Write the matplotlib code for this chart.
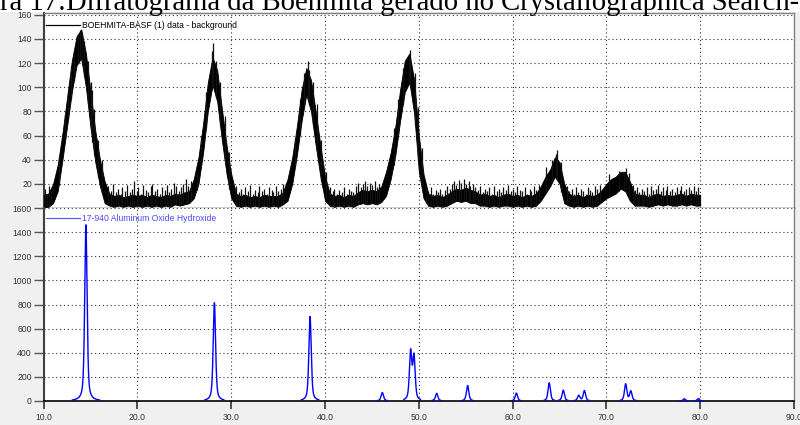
import numpy as np
import matplotlib
matplotlib.use("Agg")
import matplotlib.pyplot as plt
from matplotlib.patches import Rectangle

# ---------------- data ----------------
# Measured pattern (data - background): upper / lower envelope of the noisy trace,
# sampled every 0.5 deg 2-theta from 10.0 to 80.0
meas_start, meas_step = 10.0, 0.5
meas_upper = [
    11, 12, 20, 36, 62, 92, 122, 142, 148, 128,      # 10.0 - 14.5
    96, 64, 40, 22, 12, 10, 11, 9, 10, 11,           # 15.0 - 19.5
    10, 11, 9, 11, 10, 9, 11, 10, 12, 11,            # 20.0 - 24.5
    13, 14, 24, 42, 70, 104, 125, 114, 82, 52,       # 25.0 - 29.5
    28, 12, 10, 11, 9, 10, 9, 11, 10, 10,            # 30.0 - 34.5
    10, 13, 24, 42, 68, 98, 116, 106, 80, 52,        # 35.0 - 39.5
    26, 12, 10, 11, 9, 11, 10, 13, 15, 14,           # 40.0 - 44.5
    15, 14, 18, 30, 46, 68, 98, 122, 128, 106,       # 45.0 - 49.5
    60, 28, 12, 10, 11, 9, 11, 14, 16, 15,           # 50.0 - 54.5
    17, 15, 14, 11, 12, 10, 11, 9, 11, 12,           # 55.0 - 59.5
    10, 11, 9, 11, 10, 12, 18, 26, 32, 42,           # 60.0 - 64.5
    38, 20, 12, 10, 11, 9, 11, 10, 11, 15,           # 65.0 - 69.5
    20, 24, 26, 30, 30, 22, 12, 11, 11, 9,           # 70.0 - 74.5
    11, 12, 10, 11, 10, 11, 12, 10, 12, 11,          # 75.0 - 79.5
    11,                                              # 80.0
]
meas_lower = [
    0, 1, 4, 14, 40, 68, 96, 118, 124, 100,
    66, 38, 18, 4, 2, 1, 2, 1, 2, 1,
    2, 1, 2, 1, 2, 1, 2, 1, 3, 2,
    3, 4, 8, 20, 46, 80, 102, 88, 56, 28,
    8, 2, 1, 2, 1, 2, 1, 2, 1, 2,
    1, 3, 6, 20, 44, 72, 94, 80, 52, 26,
    6, 2, 1, 2, 1, 2, 1, 3, 4, 3,
    4, 3, 5, 10, 24, 44, 72, 96, 104, 78,
    30, 8, 2, 1, 2, 1, 2, 4, 6, 5,
    6, 4, 4, 2, 2, 1, 2, 1, 2, 2,
    1, 2, 1, 2, 1, 2, 6, 12, 18, 26,
    20, 4, 2, 1, 2, 1, 2, 1, 2, 5,
    8, 10, 12, 16, 14, 6, 2, 2, 2, 1,
    2, 3, 2, 3, 2, 2, 3, 2, 3, 2,
    2,
]
# individual spikes of the noisy trace (2-theta, top count)
spike_pos = [
    10.1, 10.3, 10.6, 10.8, 11.6, 12.3, 12.6, 12.9, 13.2, 13.7, 13.9, 14.1, 14.3,
    14.7, 15.0, 15.2, 15.4, 15.8, 16.2,
    16.9, 17.2, 17.4, 17.7, 17.9, 18.2, 18.4, 18.7, 18.9, 19.2, 19.4, 19.6, 19.9,
    20.1, 20.4, 20.6, 20.9, 21.1, 21.4, 21.6, 21.9, 22.1, 22.4, 22.6, 22.9, 23.1,
    23.4, 23.6, 23.9, 24.1, 24.4, 24.6, 24.9, 25.2, 25.4, 25.7, 26.3,
    26.8, 27.3, 27.9, 28.05, 28.4, 28.8, 29.3, 29.8,
    30.5, 30.8, 31.0, 31.3, 31.5, 31.8, 32.0, 32.3, 32.5, 32.8, 33.0, 33.3, 33.5,
    33.8, 34.0, 34.3, 34.5, 34.8, 35.0, 35.3, 35.5,
    36.8, 37.3, 37.8, 38.15, 38.3, 38.7, 39.1, 39.6, 40.1,
    40.5, 40.8, 41.0, 41.3, 41.5, 41.8, 42.0, 42.3, 42.5, 42.8, 43.0, 43.3, 43.5,
    43.8, 44.0, 44.3, 44.5, 44.8, 45.0, 45.3, 45.5, 45.8,
    47.3, 47.8, 48.3, 48.9, 49.05, 49.6, 49.9, 50.3,
    50.8, 51.0, 51.3, 51.5, 51.8, 52.0, 52.3, 52.5, 52.8, 53.0, 53.3, 53.5, 53.8,
    54.0, 54.3, 54.5, 54.8, 55.0, 55.3, 55.5, 55.8, 56.0, 56.3, 56.5, 56.8, 57.0,
    57.3, 57.5, 57.8, 58.0, 58.3, 58.5, 58.8, 59.0, 59.3, 59.5, 59.8, 60.0, 60.3,
    60.5, 60.8, 61.0, 61.3, 61.5, 61.8, 62.0, 62.3, 62.5, 62.8,
    63.6, 64.2, 64.6, 64.75, 65.2,
    65.8, 66.0, 66.3, 66.5, 66.8, 67.0, 67.3, 67.5, 67.8, 68.0, 68.3, 68.5, 68.8,
    69.0, 69.3,
    70.3, 71.3, 71.9, 72.05, 72.4,
    72.8, 73.0, 73.3, 73.5, 73.8, 74.0, 74.3, 74.5, 74.8, 75.0, 75.3, 75.5, 75.8,
    76.0, 76.3, 76.5, 76.8, 77.0, 77.3, 77.5, 77.8, 78.0, 78.3, 78.5, 78.8, 79.0,
    79.3, 79.5, 79.8,
]
spike_top = [
    16, 12, 18, 14, 42, 78, 96, 118, 128, 144, 147, 145, 138,
    122, 104, 98, 82, 56, 40,
    18, 14, 20, 13, 16, 12, 17, 14, 19, 13, 16, 22, 14,
    17, 12, 19, 15, 13, 18, 20, 14, 16, 12, 17, 15, 19,
    13, 16, 21, 18, 14, 17, 20, 24, 18, 22, 28,
    60, 96, 130, 137, 122, 104, 76, 46,
    18, 13, 16, 12, 17, 14, 19, 12, 15, 13, 18, 14, 16,
    12, 17, 15, 13, 18, 14, 16, 20,
    58, 90, 112, 122, 114, 104, 86, 56, 30,
    17, 14, 16, 12, 15, 13, 17, 12, 16, 14, 13, 18, 21,
    17, 20, 22, 18, 21, 19, 22, 17, 20,
    66, 90, 116, 124, 131, 112, 84, 50,
    16, 14, 17, 12, 15, 13, 16, 12, 15, 18, 16, 20, 22,
    19, 23, 21, 24, 20, 22, 18, 20, 17, 15, 18, 13, 16,
    14, 17, 12, 18, 14, 16, 13, 17, 15, 19, 14, 16, 13,
    18, 15, 14, 17, 12, 16, 14, 18, 15, 19,
    34, 40, 45, 48, 38,
    18, 14, 16, 12, 17, 13, 16, 14, 12, 17, 15, 13, 18,
    16, 19,
    28, 31, 30, 33, 29,
    19, 15, 17, 13, 16, 14, 17, 12, 18, 15, 16, 19, 14,
    17, 15, 18, 14, 16, 13, 17, 15, 18, 14, 16, 17, 15,
    18, 14, 17,
]

# Reference card 17-940 Aluminum Oxide Hydroxide
card_pos = [14.5, 28.2, 38.4, 46.1, 49.12, 49.48, 51.9, 55.2, 60.4, 63.9, 65.4,
            67.05, 67.65, 72.05, 72.6, 78.3, 79.8]
card_int = [1460, 815, 700, 70, 400, 360, 62, 128, 65, 150, 88,
            45, 85, 140, 80, 18, 20]

x_ticks = [10, 20, 30, 40, 50, 60, 70, 80, 90]
x_labels = ["10.0", "20.0", "30.0", "40.0", "50.0", "60.0", "70.0", "80.0", "90.0"]
top_ticks = [20, 40, 60, 80, 100, 120, 140, 160]
bot_ticks = [0, 200, 400, 600, 800, 1000, 1200, 1400, 1600]

title_text = "ra 17:Difratograma da Boehmita gerado no Crystallographica Search-"
top_label = "BOEHMITA-BASF (1) data - background"
bot_label = "17-940 Aluminum Oxide Hydroxide"

# ---------------- figure ----------------
W, H = 800, 425
fig = plt.figure(figsize=(W / 100, H / 100), dpi=100, facecolor="white")
fig.patches.append(Rectangle((0, 0), 1, 1 - 12 / H, transform=fig.transFigure,
                             facecolor="#f0f0f0", edgecolor="none", zorder=-10))

x0 = 43.7 / W
wax = (794 - 43.7) / W
ax_top = fig.add_axes([x0, 1 - 208 / H, wax, (208 - 12.5) / H])
ax_bot = fig.add_axes([x0, 1 - 401 / H, wax, (401 - 208) / H])

tick_font = dict(family="Liberation Sans", size=6.2, color="#333333")
spine_col = "#404040"

for ax in (ax_top, ax_bot):
    ax.set_facecolor("white")
    ax.set_xlim(10, 90)
    ax.set_xticks(x_ticks)
    for s in ("top", "right"):
        ax.spines[s].set_color("#808080")
        ax.spines[s].set_linewidth(1.0)
    ax.spines["left"].set_color(spine_col)
    ax.spines["left"].set_linewidth(1.5)
    ax.spines["bottom"].set_color("black")
    ax.spines["bottom"].set_linewidth(1.2)
    ax.tick_params(axis="y", direction="out", length=7.5, width=1.0, color="#555555",
                   pad=1, labelsize=tick_font["size"], labelcolor=tick_font["color"])
    ax.grid(True, which="major", linestyle=(0, (1, 2.5)), color="#333333", linewidth=0.8)
    for lab in ax.get_yticklabels():
        lab.set_family(tick_font["family"])

# --- top panel ---
xm = meas_start + meas_step * np.arange(len(meas_upper))
up = np.array(meas_upper, float)
lo = np.array(meas_lower, float)
ax_top.fill_between(xm, lo, up, color="black", linewidth=0.6, edgecolor="black", zorder=3)
sp_base = np.interp(spike_pos, xm, lo)
ax_top.vlines(spike_pos, sp_base, spike_top, color="#111111", linewidth=0.9, zorder=3)
ax_top.set_ylim(0, 160 * (208 - 12.5) / (208 - 14.8))
ax_top.set_yticks(top_ticks)
ax_top.set_yticklabels([str(t) for t in top_ticks])
ax_top.tick_params(axis="x", length=0, labelbottom=False)
ax_top.spines["bottom"].set_linewidth(1.0)

ax_top.plot([0.003, 0.048], [0.936, 0.936], transform=ax_top.transAxes,
            color="black", linewidth=0.9, zorder=5)
ax_top.text(0.0505, 0.936, top_label, transform=ax_top.transAxes, va="center", ha="left",
            family="Liberation Sans", size=6.2, color="black", zorder=5)

# --- bottom panel (reference card with peak profiles) ---
xg = np.arange(10, 90, 0.005)
yg = np.zeros_like(xg)
inwin = np.zeros_like(xg, bool)
fw, eta = 0.30, 0.55
for p, h in zip(card_pos, card_int):
    d = xg - p
    lor = 1.0 / (1.0 + (2 * d / fw) ** 2)
    gau = np.exp(-4 * np.log(2) * (d / fw) ** 2)
    yg += h * (eta * lor + (1 - eta) * gau)
    half = 0.45 + 1.0 * h / max(card_int)
    inwin |= np.abs(d) <= half
yg = np.where(inwin, yg, np.nan)
ax_bot.plot(xg, yg, color="#0000ff", linewidth=1.0, zorder=4, clip_on=False)
ax_bot.set_ylim(0, 1600)
ax_bot.set_yticks(bot_ticks)
ax_bot.set_yticklabels([str(t) for t in bot_ticks])
ax_bot.set_xticklabels(x_labels)
ax_bot.tick_params(axis="x", direction="out", length=6, width=1.2, color="#333333",
                   pad=3, labelsize=tick_font["size"], labelcolor=tick_font["color"])
for lab in ax_bot.get_xticklabels():
    lab.set_family(tick_font["family"])
ax_bot.spines["top"].set_visible(False)

ax_bot.plot([0.003, 0.048], [0.948, 0.948], transform=ax_bot.transAxes,
            color="#5a5aff", linewidth=0.9, zorder=5)
ax_bot.text(0.0505, 0.948, bot_label, transform=ax_bot.transAxes, va="center", ha="left",
            family="Liberation Sans", size=6.2, color="#4a4aff", zorder=5)

# --- clipped caption at the very top ---
fig.text(0.0, 1 - 10 / H, title_text, ha="left", va="baseline",
         family="Liberation Serif", size=20.6, color="black")

fig.savefig("out.png", dpi=100, facecolor=fig.get_facecolor())
